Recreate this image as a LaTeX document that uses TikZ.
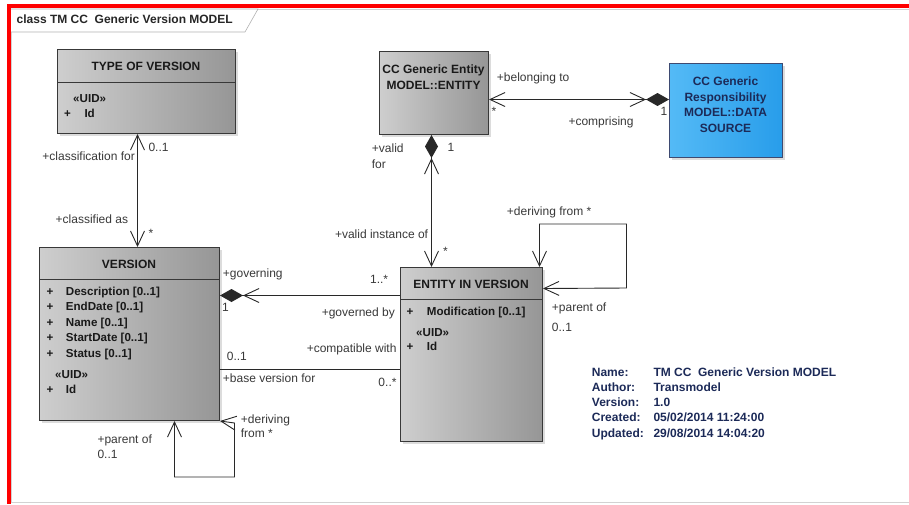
\documentclass[tikz,border=0pt]{standalone}
\usepackage{fontspec}
\setmainfont{Liberation Sans}
\usepackage{xcolor}
\usepackage{tikz}
\usetikzlibrary{arrows.meta,shadows}
\definecolor{boxlt}{RGB}{206,206,206}
\definecolor{boxdk}{RGB}{150,150,150}
\definecolor{bluelt}{RGB}{84,186,246}
\definecolor{bluedk}{RGB}{40,157,234}
\definecolor{edge}{RGB}{40,40,40}
\definecolor{navy}{RGB}{28,42,88}
\newcommand{\uid}{«UID»}
\newcommand{\lblfont}{\fontsize{12}{14}\selectfont}
\newcommand{\ttlfont}{\bfseries\fontsize{12}{15.5}\selectfont}
\newcommand{\attrfont}{\bfseries\fontsize{11.6}{15.5}\selectfont}

\begin{document}
\begin{tikzpicture}[x=1pt, y=-1pt, >={Straight Barb[length=15pt,width=14pt]},
  classbox/.style={draw=black!78, line width=1pt, left color=boxlt, right color=boxdk,
    drop shadow={opacity=0.28, shadow xshift=2.5pt, shadow yshift=-2.5pt},
    anchor=north west, inner sep=0pt},
  srcbox/.style={classbox, left color=bluelt, right color=bluedk, draw=navy!85},
  divider/.style={black!78, line width=1pt},
  assoc/.style={edge, line width=0.9pt},
  title/.style={font=\ttlfont, inner sep=0pt, text=black!90},
  attr/.style={font=\attrfont, inner sep=0pt, anchor=base west, text=black!90},
  lbl/.style={font=\lblfont, inner sep=0pt, text=black!78},
  info/.style={font=\ttlfont, inner sep=0pt, anchor=base west, text=navy}]
  \useasboundingbox (0,0) rectangle (909,504);
  % diagram frame and its tab
  \draw[gray!35, line width=0.6pt] (909,502.5) -- (11,502.5) -- (11,9) -- (909,9);
  \draw[gray!60, line width=0.6pt, fill=white] (11,9) -- (258,9) -- (245,32) -- (11,32);
  \node[font=\ttlfont, inner sep=0pt, anchor=base west, text=black!85] (frametitle)
    at (16.5,23) {class TM CC~ Generic Version MODEL};
  \fill[red] (7.3,4.3) rectangle (909,8.3);
  \fill[red] (7.3,4.3) rectangle (11,504);

  % classes
  \node[classbox, minimum width=178pt, minimum height=84pt] (tov) at (57,49) {};
  \draw[divider] ([yshift=-33pt]tov.north west) -- ([yshift=-33pt]tov.north east);
  \node[title] (tovname) at (146,66) {TYPE OF VERSION};
  \node[attr] (tovuid) at (73,102.5) {\uid};
  \node[attr] (tovplus) at (64,117.3) {+};
  \node[attr] (tovid) at (84.3,117.3) {Id};

  \node[classbox, minimum width=180pt, minimum height=173pt] (ver) at (39,247) {};
  \draw[divider] ([yshift=-32pt]ver.north west) -- ([yshift=-32pt]ver.north east);
  \node[title] (vername) at (129,264) {VERSION};
  \foreach \yy/\txt [count=\i] in {295/Description [0..1], 310.5/EndDate [0..1],
      326/Name [0..1], 341.5/StartDate [0..1], 357/Status [0..1]} {
    \node[attr] (verplus\i) at (46.5,\yy) {+};
    \node[attr] (verattr\i) at (65.7,\yy) {\txt};
  }
  \node[attr] (veruid) at (55,378.3) {\uid};
  \node[attr] (verplus6) at (46.5,393.3) {+};
  \node[attr] (verid) at (65.7,393.3) {Id};

  \node[classbox, minimum width=142pt, minimum height=174pt] (eiv) at (400,267) {};
  \draw[divider] ([yshift=-32pt]eiv.north west) -- ([yshift=-32pt]eiv.north east);
  \node[title] (eivname) at (471,284) {ENTITY IN VERSION};
  \node[attr] (eivplus1) at (406.5,315) {+};
  \node[attr] (eivmod) at (426.7,315) {Modification [0..1]};
  \node[attr] (eivuid) at (416,336) {\uid};
  \node[attr] (eivplus2) at (406.5,350.7) {+};
  \node[attr] (eivid) at (426.7,350.7) {Id};

  \node[classbox, minimum width=109pt, minimum height=83pt] (ent) at (379,51) {};
  \node[title, align=center] (entname) at (433.5,77) {CC Generic Entity\\MODEL::ENTITY};

  \node[srcbox, minimum width=113pt, minimum height=94pt] (res) at (669,63) {};
  \node[title, align=center, text=navy] (resname) at (725.5,104.5)
    {CC Generic\\Responsibility\\MODEL::DATA\\SOURCE};

  % associations
  \draw[assoc, <->] ([xshift=-9pt]tov.south) -- ([xshift=-9pt]tov.south |- ver.north);
  \draw[assoc, {Diamond[length=23pt,width=13pt] Straight Barb[length=15pt,width=14pt]}->]
    ([xshift=-2.5pt]ent.south) -- ([xshift=-2.5pt]ent.south |- eiv.north);
  \draw[assoc, <-{Straight Barb[length=15pt,width=14pt] Diamond[length=23pt,width=13pt]}]
    ([yshift=-6.5pt]ent.east) -- ([yshift=-6.5pt]ent.east -| res.west);
  \draw[assoc, {Diamond[length=23pt,width=13pt] Straight Barb[length=15pt,width=14pt]}-]
    ([yshift=38.5pt]ver.east) -- ([yshift=38.5pt]ver.east -| eiv.west);
  \draw[assoc] ([yshift=-35.8pt]ver.east) -- ([yshift=-35.8pt]ver.east -| eiv.west);
  % self associations
  \draw[assoc, <->] ([xshift=45pt]ver.south) -- ++(0,56) -- ++(60,0) -- ++(0,-54)
    -- (ver.south east);
  \draw[assoc, <->] ([xshift=68pt]eiv.north) -- ++(0,-43) -- ++(87,0) -- ++(0,64)
    -- ([yshift=66pt]eiv.east);

  % role names and multiplicities
  \node[lbl, anchor=base west] (m01a) at (148.3,151) {0..1};
  \node[lbl, anchor=base east] (rclassfor) at (135,160.5) {+classification for};
  \node[lbl, anchor=base east] (rclassas) at (128.3,223.3) {+classified as};
  \node[lbl, anchor=base west] (mstara) at (148.5,237) {*};

  \node[lbl, anchor=base west] (rvalid) at (371.7,152.7) {+valid};
  \node[lbl, anchor=base west] (rvalidfor) at (371.7,168.3) {for};
  \node[lbl, anchor=base west] (m1a) at (447.3,151.7) {1};
  \node[lbl, anchor=base east] (rinstance) at (428.3,238.3) {+valid instance of};
  \node[lbl, anchor=base west] (mstarb) at (443,255) {*};

  \node[lbl, anchor=base west] (rbelong) at (496.7,81.7) {+belonging to};
  \node[lbl, anchor=base west] (mstarc) at (491.5,115.5) {*};
  \node[lbl, anchor=base west] (rcompr) at (568.3,125) {+comprising};
  \node[lbl, anchor=base west] (m1b) at (660.5,115) {1};

  \node[lbl, anchor=base west] (rgoverning) at (222.7,277) {+governing};
  \node[lbl, anchor=base east] (m1n) at (388.3,283.3) {1..*};
  \node[lbl, anchor=base west] (m1c) at (222,311.7) {1};
  \node[lbl, anchor=base east] (rgoverned) at (395,316.7) {+governed by};
  \node[lbl, anchor=base west] (m01b) at (226.7,360) {0..1};
  \node[lbl, anchor=base east] (rcompat) at (396.7,352.7) {+compatible with};
  \node[lbl, anchor=base west] (rbase) at (222.7,382.3) {+base version for};
  \node[lbl, anchor=base east] (m0n) at (396.7,386.7) {0..*};

  \node[lbl, anchor=base west] (rderiva) at (240.7,423.3) {+deriving};
  \node[lbl, anchor=base west] (rderivb) at (240.7,437.3) {from *};
  \node[lbl, anchor=base west] (rparenta) at (97.3,443.3) {+parent of};
  \node[lbl, anchor=base west] (m01c) at (97.3,458.3) {0..1};

  \node[lbl, anchor=base west] (rderivc) at (506.7,215) {+deriving from *};
  \node[lbl, anchor=base west] (rparentb) at (551.7,311) {+parent of};
  \node[lbl, anchor=base west] (m01d) at (551.7,331) {0..1};

  % model notes
  \foreach \k/\v [count=\i] in {Name:/{TM CC~ Generic Version MODEL}, Author:/Transmodel,
      Version:/1.0, Created:/{05/02/2014 11:24:00}, Updated:/{29/08/2014 14:04:20}} {
    \node[info] (notekey\i) at (591.7,360.7+15.3*\i) {\k};
    \node[info] (noteval\i) at (653.3,360.7+15.3*\i) {\v};
  }
\end{tikzpicture}
\end{document}
